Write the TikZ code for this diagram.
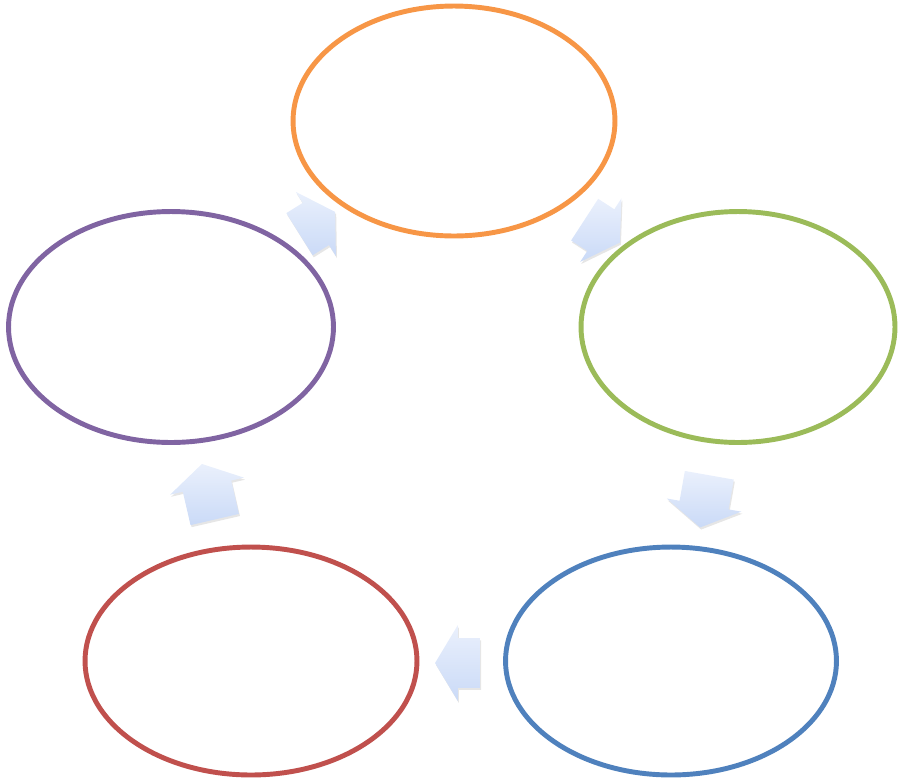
\documentclass[tikz,border=0pt]{standalone}
\usetikzlibrary{shapes.geometric,shapes.arrows,shadows}

\definecolor{rOrange}{HTML}{F79646}
\definecolor{rGreen}{HTML}{9BBB59}
\definecolor{rBlue}{HTML}{4F81BD}
\definecolor{rRed}{HTML}{C0504D}
\definecolor{rPurple}{HTML}{8064A2}
\definecolor{pfeilHell}{HTML}{EAF0FC}
\definecolor{pfeilDunkel}{HTML}{CADAF7}

\tikzset{
    phase/.style={draw, shape=ellipse, line width=2.8pt, fill=white, inner sep=0pt},
    pfeil/.style={shape=single arrow, inner xsep=0pt, inner ysep=0.49cm,
        single arrow head extend=0.26cm, single arrow tip angle=118,
        top color=pfeilHell, bottom color=pfeilDunkel,
        drop shadow={opacity=0.2, shadow xshift=0.6pt, shadow yshift=-1.2pt}}
}

\begin{document}
\begin{tikzpicture}[x=0.02cm, y=-0.02cm]
        \useasboundingbox (0, 0) rectangle (899, 782);

        \node (oben) at (454, 121) [phase, draw=rOrange, minimum width=6.44cm, minimum height=4.6cm] {};
        \node (rechts) at (738, 327) [phase, draw=rGreen, minimum width=6.28cm, minimum height=4.62cm] {};
        \node (untenR) at (671, 661) [phase, draw=rBlue, minimum width=6.62cm, minimum height=4.56cm] {};
        \node (untenL) at (251, 661) [phase, draw=rRed, minimum width=6.64cm, minimum height=4.56cm] {};
        \node (links) at (171, 327) [phase, draw=rPurple, minimum width=6.5cm, minimum height=4.62cm] {};

        \foreach \name/\x/\y/\r/\len in {p1/311/227/32/0.84, p2/596/227/-33/0.84, p3/706/494/-100/1.06, p4/465/663/180/0.9, p5/210/499/103/1.14}
            \node (\name) at (\x, \y) [pfeil, minimum height=\len cm, rotate=\r] {};
    \end{tikzpicture}
\end{document}
